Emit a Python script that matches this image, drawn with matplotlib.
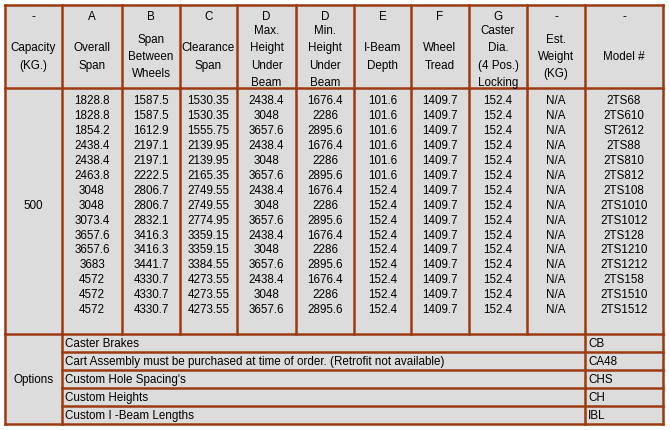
import matplotlib.pyplot as plt

plt.rcParams['font.family'] = ['Liberation Sans', 'DejaVu Sans']

# column headers
header_top = ['-', 'A', 'B', 'C', 'D', 'D', 'E', 'F', 'G', '-', '-']
header_names = ['Capacity\n(KG.)', 'Overall\nSpan', 'Span\nBetween\nWheels', 'Clearance\nSpan',
                'Max.\nHeight\nUnder\nBeam', 'Min.\nHeight\nUnder\nBeam', 'I-Beam\nDepth',
                'Wheel\nTread', 'Caster\nDia.\n(4 Pos.)\nLocking', 'Est.\nWeight\n(KG)', 'Model #']

capacity = '500'
overall_span = ['1828.8', '1828.8', '1854.2', '2438.4', '2438.4', '2463.8', '3048', '3048',
                '3073.4', '3657.6', '3657.6', '3683', '4572', '4572', '4572']
span_wheels = ['1587.5', '1587.5', '1612.9', '2197.1', '2197.1', '2222.5', '2806.7', '2806.7',
               '2832.1', '3416.3', '3416.3', '3441.7', '4330.7', '4330.7', '4330.7']
clearance = ['1530.35', '1530.35', '1555.75', '2139.95', '2139.95', '2165.35', '2749.55', '2749.55',
             '2774.95', '3359.15', '3359.15', '3384.55', '4273.55', '4273.55', '4273.55']
max_height = ['2438.4', '3048', '3657.6'] * 5
min_height = ['1676.4', '2286', '2895.6'] * 5
beam_depth = ['101.6'] * 6 + ['152.4'] * 9
wheel_tread = ['1409.7'] * 15
caster_dia = ['152.4'] * 15
est_weight = ['N/A'] * 15
models = ['2TS68', '2TS610', 'ST2612', '2TS88', '2TS810', '2TS812', '2TS108', '2TS1010',
          '2TS1012', '2TS128', '2TS1210', '2TS1212', '2TS158', '2TS1510', '2TS1512']

option_names = ['Caster Brakes', 'Cart Assembly must be purchased at time of order. (Retrofit not available)',
                "Custom Hole Spacing's", 'Custom Heights', 'Custom I -Beam Lengths']
option_codes = ['CB', 'CA48', 'CHS', 'CH', 'IBL']

columns = [overall_span, span_wheels, clearance, max_height, min_height, beam_depth,
           wheel_tread, caster_dia, est_weight, models]

col_x = [5, 62, 122, 180, 237, 296, 354, 411, 469, 527, 585, 663]
top, head_bot, body_bot, bottom = 6, 89, 335, 425
edge = '#9c3b12'
bg = '#dcdcdc'
fs = 8.4

fig = plt.figure(figsize=(6.7, 4.31), dpi=100)
ax = fig.add_axes([0, 0, 1, 1])
ax.set_xlim(0, 670)
ax.set_ylim(431, 0)
ax.axis('off')
ax.add_patch(plt.Rectangle((col_x[0], top), col_x[-1] - col_x[0], bottom - top, color=bg, zorder=0))

lw = 1.8
# horizontal lines
for y in [top, head_bot, body_bot, bottom]:
    ax.plot([col_x[0], col_x[-1]], [y, y], color=edge, lw=lw)
opt_h = (bottom - body_bot) / len(option_names)
for i in range(1, len(option_names)):
    y = body_bot + i * opt_h
    ax.plot([col_x[1], col_x[-1]], [y, y], color=edge, lw=lw)
# vertical lines
for x in col_x:
    ax.plot([x, x], [top, body_bot], color=edge, lw=lw)
for x in [col_x[0], col_x[1], col_x[-2], col_x[-1]]:
    ax.plot([x, x], [body_bot, bottom], color=edge, lw=lw)

# header text
for i in range(len(header_top)):
    cx = (col_x[i] + col_x[i + 1]) / 2
    ax.text(cx, 17, header_top[i], ha='center', va='center', fontsize=fs)
    ax.text(cx, 57, header_names[i], ha='center', va='center', fontsize=fs, linespacing=1.6)

# body
n = len(models)
y0, pitch = 101, 14.95
for j, col in enumerate(columns):
    cx = (col_x[j + 1] + col_x[j + 2]) / 2
    for r, val in enumerate(col):
        ax.text(cx, y0 + r * pitch, val, ha='center', va='center', fontsize=fs)
ax.text((col_x[0] + col_x[1]) / 2, y0 + (n - 1) / 2 * pitch, capacity, ha='center', va='center', fontsize=fs)

# options
ax.text((col_x[0] + col_x[1]) / 2, (body_bot + bottom) / 2, 'Options', ha='center', va='center', fontsize=fs)
for i, (name, code) in enumerate(zip(option_names, option_codes)):
    cy = body_bot + (i + 0.5) * opt_h
    ax.text(col_x[1] + 3, cy, name, ha='left', va='center', fontsize=fs)
    ax.text(col_x[-2] + 3, cy, code, ha='left', va='center', fontsize=fs)

fig.savefig('out.png', dpi=100)
